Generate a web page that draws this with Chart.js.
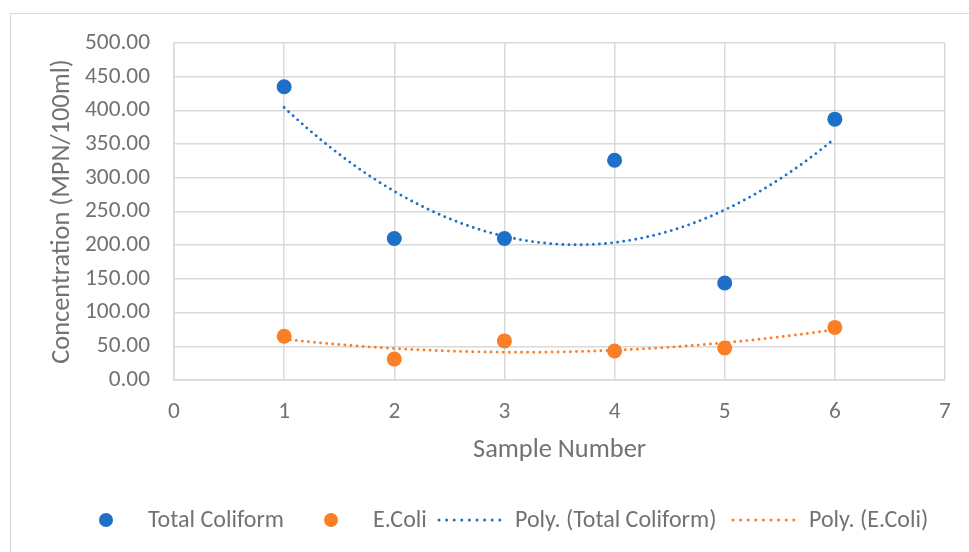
<!DOCTYPE html>
<html>
<head>
<meta charset="utf-8">
<script src="https://cdn.jsdelivr.net/npm/chart.js@4.4.1/dist/chart.umd.min.js"></script>
<style>
html,body{margin:0;padding:0;background:#fff;overflow:hidden;}
#frame{position:absolute;left:10px;top:13px;width:1000px;height:600px;border:1.5px solid #d9d9d9;box-sizing:border-box;}
#wrap{position:absolute;left:0;top:0;width:969px;height:552px;}
</style>
</head>
<body>
<div id="frame"></div>
<div id="wrap"><canvas id="c" width="969" height="552"></canvas></div>
<script>
// ---- data ----
const sampleNumbers = [1, 2, 3, 4, 5, 6];
const totalColiform = [435, 210, 210, 326, 144, 387];
const eColi = [65, 31, 58, 43, 47.5, 78];
const seriesLabels = ['Total Coliform', 'E.Coli', 'Poly. (Total Coliform)', 'Poly. (E.Coli)'];
const xAxisTitle = 'Sample Number';
const yAxisTitle = 'Concentration (MPN/100ml)';
const yMin = 0, yMax = 500, yStep = 50;
const xMin = 0, xMax = 7, xStep = 1;

// ---- style ----
const BLUE = '#1d6fc8';
const ORANGE = '#fb7f26';
const GRID = '#d9d9d9';
const TEXT = '#727272';
const FAMILY = "Carlito, Lato, 'Open Sans', sans-serif";

function fitSize(text, target) {
  const ctx = document.createElement('canvas').getContext('2d');
  ctx.font = '100px ' + FAMILY;
  return 100 * target / ctx.measureText(text).width;
}
const tickSize = fitSize('500.00', 65);
const legendSize = fitSize('Total Coliform', 136);
const titleSize = fitSize('Sample Number', 173);

// quadratic least squares trendline (Excel "Poly." order 2)
function polyfit2(xs, ys) {
  let s = [0,0,0,0,0], t = [0,0,0];
  for (let i = 0; i < xs.length; i++) {
    let p = 1;
    for (let k = 0; k <= 4; k++) { s[k] += p; if (k <= 2) t[k] += p * ys[i]; p *= xs[i]; }
  }
  const A = [[s[0], s[1], s[2], t[0]], [s[1], s[2], s[3], t[1]], [s[2], s[3], s[4], t[2]]];
  for (let i = 0; i < 3; i++) {
    for (let j = i + 1; j < 3; j++) {
      const f = A[j][i] / A[i][i];
      for (let k = i; k < 4; k++) A[j][k] -= f * A[i][k];
    }
  }
  const c = [0,0,0];
  for (let i = 2; i >= 0; i--) {
    let v = A[i][3];
    for (let k = i + 1; k < 3; k++) v -= A[i][k] * c[k];
    c[i] = v / A[i][i];
  }
  return c;
}
function trend(xs, ys) {
  const c = polyfit2(xs, ys);
  const a = xs[0], b = xs[xs.length - 1], pts = [];
  const n = 100;
  for (let i = 0; i <= n; i++) {
    const x = a + (b - a) * i / n;
    pts.push({ x, y: c[0] + c[1] * x + c[2] * x * x });
  }
  return pts;
}
const toPts = (xs, ys) => xs.map((x, i) => ({ x, y: ys[i] }));

// ---- custom Excel-like legend ----
const legendLayout = [148, 373, 515, 809]; // text left edges
const excelLegend = {
  id: 'excelLegend',
  afterDraw(chart) {
    const ctx = chart.ctx;
    const y = 520;
    ctx.save();
    ctx.font = legendSize + 'px ' + FAMILY;
    ctx.textBaseline = 'middle';
    ctx.fillStyle = TEXT;
    chart.data.datasets.forEach((ds, i) => {
      const tx = legendLayout[i];
      if (ds.showLine) {
        ctx.save();
        ctx.strokeStyle = ds.borderColor;
        ctx.lineWidth = 3;
        ctx.lineCap = 'round';
        ctx.setLineDash([0, 7.6]);
        ctx.beginPath();
        ctx.moveTo(tx - 76, y);
        ctx.lineTo(tx - 10, y);
        ctx.stroke();
        ctx.restore();
      } else {
        ctx.save();
        ctx.fillStyle = ds.pointBackgroundColor;
        ctx.beginPath();
        ctx.arc(tx - 42, y, 7, 0, Math.PI * 2);
        ctx.fill();
        ctx.restore();
      }
      ctx.fillText(ds.label, tx, y + 1);
    });
    ctx.restore();
  }
};

const titleLH = titleSize * 1.2;

new Chart(document.getElementById('c'), {
  type: 'scatter',
  data: {
    datasets: [
      { label: seriesLabels[0], data: toPts(sampleNumbers, totalColiform), pointBackgroundColor: BLUE, backgroundColor: BLUE, pointBorderWidth: 0, pointRadius: 7.5, showLine: false },
      { label: seriesLabels[1], data: toPts(sampleNumbers, eColi), pointBackgroundColor: ORANGE, backgroundColor: ORANGE, pointBorderWidth: 0, pointRadius: 7.5, showLine: false },
      { label: seriesLabels[2], data: trend(sampleNumbers, totalColiform), showLine: true, borderColor: BLUE, borderWidth: 2.9, borderDash: [0, 6.1], borderCapStyle: 'round', pointRadius: 0, tension: 0 },
      { label: seriesLabels[3], data: trend(sampleNumbers, eColi), showLine: true, borderColor: ORANGE, borderWidth: 2.9, borderDash: [0, 6.1], borderCapStyle: 'round', pointRadius: 0, tension: 0 }
    ]
  },
  options: {
    responsive: false,
    animation: false,
    devicePixelRatio: 1,
    layout: { padding: { left: 0, top: 43, right: 24, bottom: 0 } },
    plugins: { legend: { display: false }, tooltip: { enabled: false } },
    scales: {
      x: {
        type: 'linear', min: xMin, max: xMax,
        afterFit: s => { s.height = 172; },
        ticks: { stepSize: xStep, padding: 18, color: TEXT, font: { family: FAMILY, size: tickSize } },
        grid: { color: GRID, lineWidth: 1.5, drawTicks: false },
        border: { color: GRID, width: 1.5 },
        title: { display: true, text: xAxisTitle, color: TEXT, font: { family: FAMILY, size: titleSize }, padding: { top: 0, bottom: 552 - 450 - titleLH / 2 } }
      },
      y: {
        type: 'linear', min: yMin, max: yMax,
        afterFit: s => { s.width = 174; },
        ticks: { stepSize: yStep, padding: 24, color: TEXT, font: { family: FAMILY, size: tickSize }, callback: v => Number(v).toFixed(2) },
        grid: { color: GRID, lineWidth: 1.5, drawTicks: false },
        border: { color: GRID, width: 1.5 },
        title: { display: true, text: yAxisTitle, color: TEXT, font: { family: FAMILY, size: titleSize }, padding: { top: 62 - titleLH / 2, bottom: 0 } }
      }
    }
  },
  plugins: [excelLegend]
});
</script>
</body>
</html>
